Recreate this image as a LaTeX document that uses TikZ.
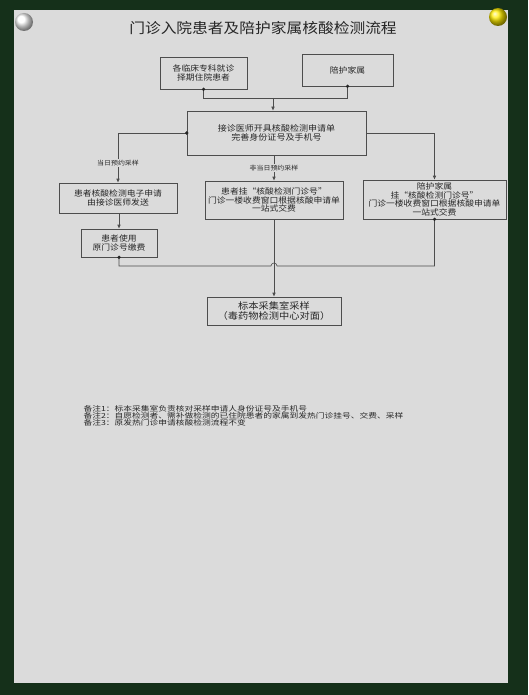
\documentclass[tikz,border=0pt]{standalone}
\usepackage{fontspec}
\setmainfont[FakeStretch=1.1]{Noto Sans CJK SC}
\newfontfamily\notefont[FakeStretch=1.25]{Noto Sans CJK SC}
\usetikzlibrary{arrows.meta}
\definecolor{paper}{HTML}{DBDBDB}
\definecolor{ink}{HTML}{262626}
\definecolor{edge}{HTML}{4D4D4D}
\definecolor{frame}{HTML}{15301A}

\begin{document}
\begin{tikzpicture}[x=1pt,y=-1pt,
    dot/.style={circle,fill=ink,inner sep=0pt,minimum size=3.6pt},
    lbl/.style={fill=paper,inner sep=1pt,text=ink,font=\fontsize{6.3}{7}\selectfont},
    >={Latex[length=4pt,width=3.5pt]}]
    % paper and pins
    \fill[frame] (0,0) rectangle (528,695);
    \fill[paper] (14,10) rectangle (508,683);
    \useasboundingbox (0,0) rectangle (528,695);
    \shade[ball color=white] (24,22) circle[radius=9pt];
    \shade[ball color=yellow!85!orange] (498,17) circle[radius=9pt];

    \node[text=ink,font=\fontsize{14.3}{16}\selectfont] (title) at (263,28) {门诊入院患者及陪护家属核酸检测流程};

    \begin{scope}[every node/.style={draw=edge,line width=0.6pt,text=ink,align=center,inner sep=1pt,font=\fontsize{8}{8.8}\selectfont}]
      \node[minimum width=87pt,minimum height=32pt]  (A) at (203.5,73)  {各临床专科就诊\\择期住院患者};
      \node[minimum width=91pt,minimum height=32pt]  (B) at (347.5,70)  {陪护家属};
      \node[minimum width=179pt,minimum height=44pt,font=\fontsize{8.2}{9.5}\selectfont] (C) at (276.5,133) {接诊医师开具核酸检测申请单\\完善身份证号及手机号};
      \node[minimum width=118pt,minimum height=30pt] (D) at (118,198)   {患者核酸检测电子申请\\由接诊医师发送};
      \node[minimum width=138pt,minimum height=38pt] (E) at (274,200)   {患者挂“核酸检测门诊号”\\门诊一楼收费窗口根据核酸申请单\\一站式交费};
      \node[minimum width=143pt,minimum height=39pt] (F) at (434.5,199.5) {陪护家属\\挂“核酸检测门诊号”\\门诊一楼收费窗口根据核酸申请单\\一站式交费};
      \node[minimum width=76pt,minimum height=28pt]  (G) at (119,243)   {患者使用\\原门诊号缴费};
      \node[minimum width=134pt,minimum height=28pt,font=\fontsize{9.3}{9.8}\selectfont] (H) at (274,311) {标本采集室采样\\（毒药物检测中心对面）};
    \end{scope}

    \coordinate (jT) at (273,98);
    \coordinate (jB) at (274,266);

    \begin{scope}[draw=edge,line width=0.6pt]
      \draw (A.south) node[dot]{} |- (jT);
      \draw (B.south) node[dot]{} |- (jT);
      \draw[->] (jT) -- (jT |- C.north);
      \draw[->] (C.west) node[dot]{} -| (D.north) node[lbl,pos=0.8] {当日预约采样};
      \draw[->] (C.south -| E.north) -- (E.north) node[lbl,midway] {非当日预约采样};
      \draw[->] (C.east) -| (F.north);
      \draw[->] (D.south -| G.north) -- (G.north);
      \draw (G.south) node[dot]{} |- ([xshift=-3pt]jB) arc[start angle=180,end angle=0,radius=3pt] -| (F.south) node[dot]{};
      \draw[->] (E.south) -- (H.north);
    \end{scope}

    \node[anchor=north west,align=left,text=ink,font=\notefont\fontsize{7}{7.2}\selectfont] (notes) at (80,402)
      {备注1：标本采集室负责核对采样申请人身份证号及手机号\\
       备注2：自愿检测者、需补做检测的已住院患者的家属到发热门诊挂号、交费、采样\\
       备注3：原发热门诊申请核酸检测流程不变};
\end{tikzpicture}
\end{document}
